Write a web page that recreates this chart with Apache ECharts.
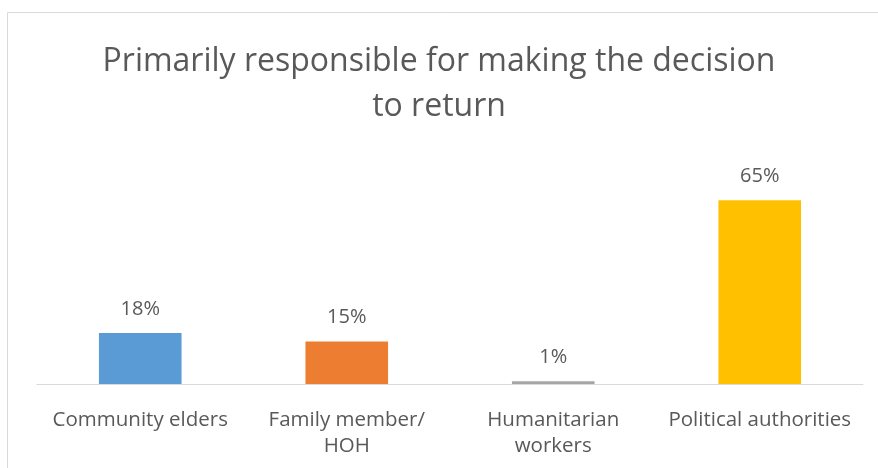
<!DOCTYPE html>
<html>
<head>
<meta charset="utf-8">
<script src="https://cdn.jsdelivr.net/npm/echarts@6/dist/echarts.min.js"></script>
<style>
  html, body { margin: 0; padding: 0; background: #ffffff; }
  #chart { width: 878px; height: 468px; }
</style>
</head>
<body>
<div id="chart"></div>
<script>
// Who was primarily responsible for the decision to return (share of respondents, %)
const categories = ['Community elders', 'Family member/\nHOH', 'Humanitarian\nworkers', 'Political authorities'];
const shares = [18, 15, 1, 65];
const barColors = ['#5B9BD5', '#ED7D31', '#A5A5A5', '#FFC000'];

const FONT = '"Open Sans", "Noto Sans", sans-serif';
const TEXT = '#595959';

const chart = echarts.init(document.getElementById('chart'), null, { renderer: 'canvas' });

chart.setOption({
  animation: false,
  backgroundColor: '#ffffff',
  title: {
    text: 'Primarily responsible for making the decision\nto return',
    left: 'center',
    top: 34,
    textStyle: {
      fontFamily: FONT,
      fontSize: 32,
      fontWeight: 'normal',
      color: TEXT,
      lineHeight: 45
    }
  },
  graphic: [{
    type: 'rect',
    silent: true,
    shape: { x: 7.5, y: 12.5, width: 900, height: 500 },
    style: { fill: 'none', stroke: '#d9d9d9', lineWidth: 1 }
  }],
  grid: { left: 37, right: 15, top: 186, bottom: 84 },
  xAxis: {
    type: 'category',
    data: categories,
    axisLine: { lineStyle: { color: '#d9d9d9', width: 1 } },
    axisTick: { show: false },
    axisLabel: {
      interval: 0,
      margin: 23,
      fontFamily: FONT,
      fontSize: 20.5,
      lineHeight: 26,
      color: TEXT
    }
  },
  yAxis: {
    type: 'value',
    min: 0,
    max: 70,
    show: false,
    splitLine: { show: false }
  },
  series: [{
    type: 'bar',
    barWidth: '40%',
    data: shares.map((v, i) => ({ value: v, itemStyle: { color: barColors[i] } })),
    label: {
      show: true,
      position: 'top',
      distance: 14,
      formatter: p => p.value + '%',
      fontFamily: FONT,
      fontSize: 20,
      color: TEXT
    }
  }]
});
</script>
</body>
</html>
